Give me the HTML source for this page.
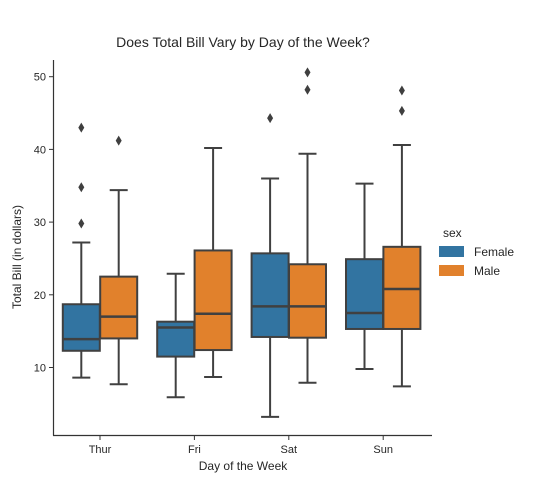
<!DOCTYPE html>
<html><head><meta charset="utf-8"><style>
body{margin:0;background:#fff;}
svg text{font-family:"Liberation Sans","DejaVu Sans",sans-serif;fill:#262626;}
</style></head><body>
<svg id="c" width="536" height="484" xmlns="http://www.w3.org/2000/svg">
<text x="243" y="47" font-size="14" text-anchor="middle">Does Total Bill Vary by Day of the Week?</text>
<text x="243" y="470" font-size="12" text-anchor="middle">Day of the Week</text>
<text transform="translate(21,257) rotate(-90)" font-size="12" text-anchor="middle">Total Bill (in dollars)</text>
<g id="plot"></g>
<g>
<text x="443" y="237" font-size="12">sex</text>
<rect x="439" y="246" width="25" height="11" fill="#3274a1"/>
<text x="474" y="256" font-size="12">Female</text>
<rect x="439" y="265" width="25" height="11" fill="#e1812c"/>
<text x="474" y="275" font-size="12">Male</text>
</g>
</svg>
<script>
const days=["Thur","Fri","Sat","Sun"];
const yTicks=[10,20,30,40,50];
const femaleStats=[[8.6,12.3,13.9,18.7,27.2],[5.9,11.5,15.5,16.3,22.9],[3.2,14.2,18.4,25.7,36.0],[9.8,15.3,17.5,24.9,35.3]];
const maleStats=[[7.7,14.0,17.0,22.5,34.4],[8.7,12.4,17.4,26.1,40.2],[7.9,14.1,18.4,24.2,39.4],[7.4,15.3,20.8,26.6,40.6]];
const femaleOutliers=[[43.0,34.8,29.8],[],[44.3],[]];
const maleOutliers=[[41.2],[],[50.6,48.2],[48.1,45.3]];
const NS="http://www.w3.org/2000/svg";
const g=document.getElementById('plot');
const y=v=>76.7+(50-v)*7.27;
const xc=i=>100+i*94.4;
function mk(t,a){const e=document.createElementNS(NS,t);for(const k in a)e.setAttribute(k,a[k]);g.appendChild(e);return e;}
let e=mk('line',{x1:53.5,y1:60,x2:53.5,y2:435.5,stroke:'#333','stroke-width':1.2});


e=mk('line',{x1:53,y1:435.5,x2:432,y2:435.5,stroke:'#333','stroke-width':1.2});


yTicks.forEach(t=>{
 e=mk('line',{x1:49,x2:53.5,y1:y(t),y2:y(t),stroke:'#333'});
 
 
 e=mk('text',{x:46,y:y(t)+4,'font-size':11,'text-anchor':'end'});e.textContent=t;
 
 
});
days.forEach((d,i)=>{
 e=mk('line',{x1:xc(i),x2:xc(i),y1:435.5,y2:440,stroke:'#333'});
 
 
 e=mk('text',{x:xc(i),y:453,'font-size':11,'text-anchor':'middle'});e.textContent=d;
 
 
});
function box(s,out,cx,col,name){
 const w=37,c='#404040',l=cx-w/2,r=cx+w/2;
 e=mk('line',{x1:cx,x2:cx,y1:y(s[4]),y2:y(s[3]),stroke:c,'stroke-width':2});
 
 
 e=mk('line',{x1:cx,x2:cx,y1:y(s[1]),y2:y(s[0]),stroke:c,'stroke-width':2});
 
 
 [s[0],s[4]].forEach(v=>{e=mk('line',{x1:cx-9,x2:cx+9,y1:y(v),y2:y(v),stroke:c,'stroke-width':2});
 
 });
 e=mk('rect',{x:l,y:y(s[3]),width:w,height:y(s[1])-y(s[3]),fill:col,stroke:c,'stroke-width':2});
 
 
 e=mk('line',{x1:l,x2:r,y1:y(s[2]),y2:y(s[2]),stroke:c,'stroke-width':2.5});
 
 
 out.forEach(v=>{const yy=y(v);e=mk('path',{d:`M${cx} ${yy-5}L${cx+3} ${yy}L${cx} ${yy+5}L${cx-3} ${yy}Z`,fill:'#3f3f3f'});
 
 });
}
days.forEach((d,i)=>{
 box(femaleStats[i],femaleOutliers[i],xc(i)-18.7,'#3274a1','female-'+d.toLowerCase());
 box(maleStats[i],maleOutliers[i],xc(i)+18.7,'#e1812c','male-'+d.toLowerCase());
});
</script>
</body></html>
